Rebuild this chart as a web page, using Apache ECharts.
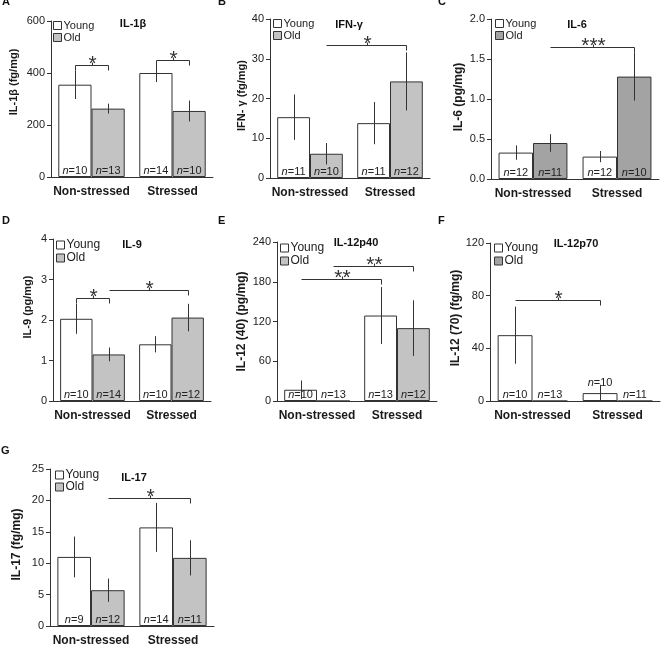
<!DOCTYPE html>
<html><head><meta charset="utf-8">
<script src="https://cdn.jsdelivr.net/npm/echarts@6/dist/echarts.min.js"></script>
<style>html,body{margin:0;padding:0;background:#fff}#c{width:661px;height:647px}</style>
</head><body><div id="c"></div>
<script>
// ---------- data ----------
const categories = ['Non-stressed', 'Stressed'];
const letters = ['A', 'B', 'C', 'D', 'E', 'F', 'G'];
const panelTitles = ['IL-1β', 'IFN-γ', 'IL-6', 'IL-9', 'IL-12p40', 'IL-12p70', 'IL-17'];
const axisNames = ['IL-1β (fg/mg)', 'IFN- γ (fg/mg)', 'IL-6 (pg/mg)', 'IL-9 (pg/mg)', 'IL-12 (40) (pg/mg)', 'IL-12 (70) (fg/mg)', 'IL-17 (fg/mg)'];
const yMax = [600, 40, 2, 4, 240, 120, 25];
const yStep = [200, 10, 0.5, 1, 60, 40, 5];
const youngMean = [[355, 400], [15.3, 13.8], [0.33, 0.28], [2.03, 1.40], [17, 129], [50, 6], [11.0, 15.7]];
const youngErr  = [[55, 35], [5.7, 5.3], [0.09, 0.07], [0.37, 0.20], [14, 43], [21.7, 6.3], [3.25, 3.9]];
const oldMean   = [[263, 254], [6.1, 24.3], [0.45, 1.28], [1.15, 2.06], [0, 110], [0, 0], [5.7, 10.85]];
const oldErr    = [[19, 40], [2.7, 7.3], [0.11, 0.30], [0.17, 0.34], [0, 42], [0, 0], [1.85, 2.8]];
const youngN = [[10, 14], [11, 11], [12, 12], [10, 10], [10, 13], [10, 10], [9, 14]];
const oldN   = [[13, 10], [10, 12], [11, 10], [14, 12], [13, 12], [13, 11], [12, 11]];
// significance brackets: [fromCategory, fromGroup(0=Young,1=Old), toCategory, toGroup, level, stars]
const sigA = [[0, 0, 0, 1, 430, '*'], [1, 0, 1, 1, 449, '*']];
const sigB = [[0, 1, 1, 1, 33.5, '*']];
const sigC = [[0, 1, 1, 1, 1.65, '***']];
const sigD = [[0, 0, 0, 1, 2.54, '*'], [0, 1, 1, 1, 2.73, '*']];
const sigE = [[0, 0, 1, 0, 184, '**'], [0, 1, 1, 1, 204, '**']];
const sigF = [[0, 0, 1, 0, 77, '*']];
const sigG = [[0, 1, 1, 1, 20.4, '*']];
const sig = [sigA, sigB, sigC, sigD, sigE, sigF, sigG];

// ---------- layout / style ----------
const FONT = "'Liberation Sans', Arial, Helvetica, sans-serif";
const GAP = 0.18;
const LIGHT = '#c3c3c3', DARK = '#a3a3a3', INK = '#333';
const layout = [
  {left: 51,  top: 21,  width: 162, height: 156, nameGap: 32, nfs: 11, shift: 17, old: LIGHT, letter: [2, -4],   title: [133, 18],  legend: [53, 20],  lfs: 11, lgap: 1},
  {left: 270, top: 19,  width: 160, height: 159, nameGap: 22, nfs: 11, shift: 3,  old: LIGHT, letter: [218, -4], title: [349, 19],  legend: [273, 18], lfs: 11, lgap: 1},
  {left: 491, top: 19,  width: 168, height: 160, nameGap: 26, nfs: 12, shift: 2,  old: DARK,  letter: [438, -4], title: [577, 19],  legend: [495, 18], lfs: 11, lgap: 1},
  {left: 53,  top: 239, width: 158, height: 162, nameGap: 20, nfs: 11, shift: 13, old: LIGHT, letter: [2, 215],  title: [132, 239], legend: [56, 239], lfs: 12, lgap: 1},
  {left: 277, top: 242, width: 160, height: 159, nameGap: 29, nfs: 12, shift: 0,  old: LIGHT, letter: [218, 215], title: [356, 237], legend: [280, 242], lfs: 12, lgap: 1},
  {left: 490, top: 243, width: 170, height: 158, nameGap: 23, nfs: 12, shift: 4,  old: DARK,  letter: [438, 215], title: [576, 238], legend: [494, 242], lfs: 12, lgap: 1},
  {left: 50,  top: 469, width: 164, height: 159, nameGap: 27, nfs: 12, shift: 3,  old: LIGHT, letter: [1, 445],  title: [134, 472], legend: [55, 469], lfs: 12, lgap: 0}
];
// n-label drawn above the bar instead of inside: [panel, group, category]
const nAbove = [[5, 0, 1]];

const option = {
  animation: false,
  backgroundColor: '#fff',
  textStyle: {fontFamily: FONT},
  grid: [], xAxis: [], yAxis: [], series: [], title: [], legend: []
};

function barData(p, g) {
  const vals = g ? oldMean[p] : youngMean[p];
  return vals.map((v, i) => {
    const item = {value: v};
    if (nAbove.some(a => a[0] === p && a[1] === g && a[2] === i)) {
      item.label = {position: 'top', distance: 5};
    }
    return item;
  });
}

layout.forEach((L, p) => {
  option.grid.push({left: L.left, top: L.top, width: L.width, height: L.height});
  option.xAxis.push({
    type: 'category', gridIndex: p, data: categories,
    axisLine: {lineStyle: {color: INK, width: 1}},
    axisTick: {length: 4, lineStyle: {color: INK}},
    axisLabel: {fontWeight: 'bold', fontSize: 12, color: '#1a1a1a', margin: 9, interval: 0, fontFamily: FONT}
  });
  const ylab = {fontSize: 11, color: '#222', margin: 6, fontFamily: FONT};
  if (p === 2) ylab.formatter = v => v.toFixed(1);
  option.yAxis.push({
    type: 'value', gridIndex: p, min: 0, max: yMax[p], interval: yStep[p],
    name: axisNames[p], nameLocation: 'middle', nameGap: L.nameGap, nameRotate: 90,
    nameTextStyle: {fontWeight: 'bold', fontSize: L.nfs, color: '#1a1a1a', fontFamily: FONT, padding: [0, 0, 0, L.shift * 2]},
    axisLine: {show: true, lineStyle: {color: INK, width: 1}},
    axisTick: {show: true, length: 4, lineStyle: {color: INK}},
    splitLine: {show: false},
    axisLabel: ylab
  });
  [0, 1].forEach(g => {
    const nArr = g ? oldN[p] : youngN[p];
    option.series.push({
      type: 'bar', name: g ? 'Old' : 'Young', xAxisIndex: p, yAxisIndex: p,
      data: barData(p, g), barGap: '0%', barCategoryGap: (GAP * 100) + '%',
      itemStyle: {color: g ? L.old : '#fff', borderColor: INK, borderWidth: 1},
      label: {
        show: true, position: 'insideBottom', distance: 1, fontSize: 11, color: '#222', fontFamily: FONT,
        formatter: prm => '{i|n}=' + nArr[prm.dataIndex],
        rich: {i: {fontStyle: 'italic', fontSize: 11, color: '#222', fontFamily: FONT}}
      },
      silent: true
    });
  });
  // error bars
  const errData = [];
  [0, 1].forEach(g => {
    const ms = g ? oldMean[p] : youngMean[p];
    const es = g ? oldErr[p] : youngErr[p];
    ms.forEach((m, i) => errData.push([i, m, es[i], g]));
  });
  option.series.push({
    type: 'custom', xAxisIndex: p, yAxisIndex: p, encode: {x: 0, y: 1}, data: errData, z: 5, silent: true,
    renderItem: (params, api) => {
      const cat = api.value(0), m = api.value(1), e = api.value(2), g = api.value(3);
      if (!e) return null;
      const top = api.coord([cat, m + e]);
      const bot = api.coord([cat, Math.max(m - e, 0)]);
      const bw = api.size([1, 0])[0] * (1 - GAP) / 2;
      const x = Math.round(top[0] + (g ? 1 : -1) * bw / 2) + 0.5;
      return {type: 'line', shape: {x1: x, y1: top[1], x2: x, y2: bot[1]}, style: {stroke: INK, lineWidth: 1}};
    }
  });
  // significance brackets
  option.series.push({
    type: 'custom', xAxisIndex: p, yAxisIndex: p, encode: {x: 0, y: 1},
    data: sig[p].map(s => [s[0], s[4]]), z: 6, silent: true,
    renderItem: (params, api) => {
      const s = sig[p][params.dataIndex];
      const bw = api.size([1, 0])[0] * (1 - GAP) / 2;
      const a = api.coord([s[0], s[4]]), b = api.coord([s[2], s[4]]);
      const x1 = Math.round(a[0] + (s[1] ? 1 : -1) * bw / 2) + 0.5;
      const x2 = Math.round(b[0] + (s[3] ? 1 : -1) * bw / 2) + 0.5;
      const y = Math.round(a[1]) + 0.5;
      const cx = Math.round((x1 + x2) / 2) + 0.5;
      const st = {stroke: INK, lineWidth: 1};
      const ch = [
        {type: 'line', shape: {x1: x1, y1: y, x2: x2, y2: y}, style: st},
        {type: 'line', shape: {x1: x2, y1: y, x2: x2, y2: y + 5}, style: st},
        {type: 'line', shape: {x1: cx, y1: y, x2: cx, y2: y - 3}, style: st},
        {type: 'text', style: {text: s[5], x: cx, y: y - 1, align: 'center', verticalAlign: 'middle', fontSize: 21, fontFamily: FONT, fill: INK}}
      ];
      if (s[0] === s[2]) ch.push({type: 'line', shape: {x1: x1, y1: y, x2: x1, y2: y + 5}, style: st});
      return {type: 'group', children: ch};
    }
  });
  option.title.push({text: letters[p], left: L.letter[0], top: L.letter[1], padding: 0,
    textStyle: {fontSize: 11, fontWeight: 'bold', color: '#111', fontFamily: FONT}});
  option.title.push({text: panelTitles[p], left: L.title[0], top: L.title[1], textAlign: 'center', padding: 0,
    textStyle: {fontSize: 11, fontWeight: 'bold', color: '#111', fontFamily: FONT}});
  option.legend.push({
    orient: 'vertical', left: L.legend[0], top: L.legend[1], padding: 0, itemGap: L.lgap,
    itemWidth: 8, itemHeight: 8, icon: 'rect', selectedMode: false,
    textStyle: {fontSize: L.lfs, color: '#222', fontFamily: FONT, padding: [0, 0, 0, -3]},
    data: [
      {name: 'Young', itemStyle: {color: '#fff', borderColor: INK, borderWidth: 1}},
      {name: 'Old', itemStyle: {color: L.old, borderColor: INK, borderWidth: 1}}
    ]
  });
});

const chart = echarts.init(document.getElementById('c'), null, {renderer: 'canvas'});
chart.setOption(option);
</script>
</body></html>
